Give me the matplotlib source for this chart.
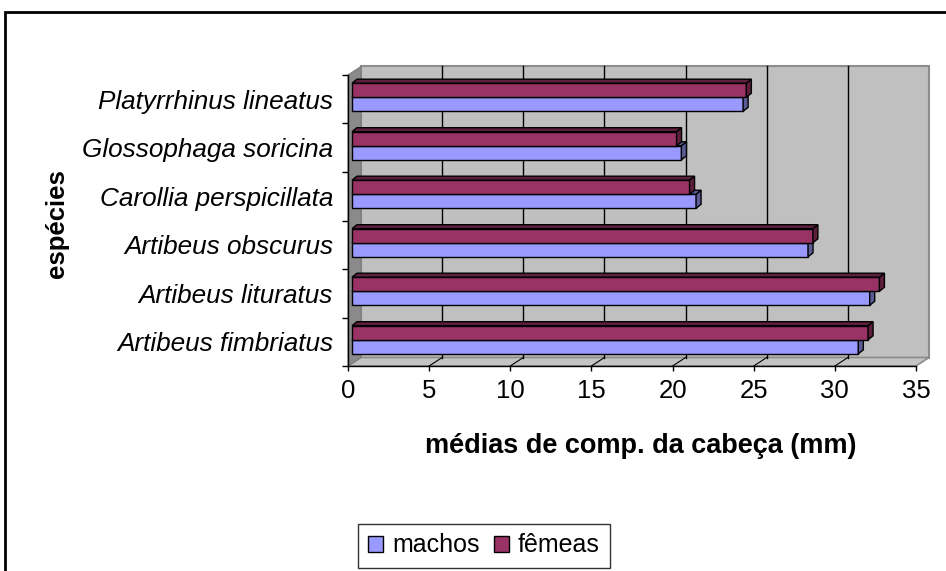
import matplotlib
matplotlib.use("Agg")
import matplotlib.pyplot as plt
from matplotlib.patches import Polygon, Rectangle, Patch

plt.rcParams["font.family"] = ["Liberation Sans", "DejaVu Sans"]

OUT_FILE = "out.png"

species = ["Artibeus fimbriatus", "Artibeus lituratus", "Artibeus obscurus",
           "Carollia perspicillata", "Glossophaga soricina", "Platyrrhinus lineatus"]
machos = [31.2, 31.9, 28.1, 21.2, 20.3, 24.1]
femeas = [31.8, 32.5, 28.4, 20.8, 20.0, 24.3]
x_ticks = [0, 5, 10, 15, 20, 25, 30, 35]

COL_M = "#9999ff"
COL_M_DARK = "#5c5c99"
COL_F = "#993366"
COL_F_DARK = "#5c1f3d"

XMAX = 35
WALL_DEPTH = (13, 8.5)   # pixels, front plane -> back wall
BAR_SHIFT = (4, 2)       # bars sit a bit behind the front plane
BAR_DEPTH = (5, 4)
BAR_H = 0.29


def bar3d(ax, left, bottom, width, px, py, color, dark, z):
    right = left + width
    top = bottom + BAR_H
    bx, by = BAR_DEPTH[0] * px, BAR_DEPTH[1] * py
    side = [(right, bottom), (right, top), (right + bx, top + by), (right + bx, bottom + by)]
    roof = [(left, top), (right, top), (right + bx, top + by), (left + bx, top + by)]
    for pts in (side, roof):
        ax.add_patch(Polygon(pts, closed=True, fc=dark, ec="black", lw=1, zorder=z, clip_on=False))


def main():
    fig = plt.figure(figsize=(9.46, 5.71), dpi=100)
    ax = fig.add_axes([348 / 946, 205 / 571, 568 / 946, 291 / 571])
    ax.set_xlim(0, XMAX)
    ax.set_ylim(-0.5, len(species) - 0.5)
    ax.patch.set_visible(False)

    # data units per pixel
    px = XMAX / 568
    py = len(species) / 291
    dx, dy = WALL_DEPTH[0] * px, WALL_DEPTH[1] * py
    y0, y1 = -0.5, len(species) - 0.5

    # walls
    ax.add_patch(Rectangle((dx, y0 + dy), XMAX, y1 - y0, fc="#c0c0c0", ec="#8c8c8c",
                           lw=1.5, zorder=0, clip_on=False))
    ax.add_patch(Polygon([(0, y0), (XMAX, y0), (XMAX + dx, y0 + dy), (dx, y0 + dy)],
                         fc="#c4c4c4", ec="#8c8c8c", lw=1.2, zorder=0, clip_on=False))
    ax.add_patch(Polygon([(0, y0), (0, y1), (dx, y1 + dy), (dx, y0 + dy)],
                         fc="#8a8a8a", ec="#7a7a7a", lw=0.8, zorder=0, clip_on=False))
    for v in x_ticks[1:-1]:
        ax.plot([v + dx, v + dx], [y0 + dy, y1 + dy], color="black", lw=1, zorder=0.5, clip_on=False)
        ax.plot([v, v + dx], [y0, y0 + dy], color="black", lw=0.8, zorder=0.5, clip_on=False)

    # bars
    sx, sy = BAR_SHIFT[0] * px, BAR_SHIFT[1] * py
    for i in range(len(species)):
        bm = i - BAR_H + sy
        bf = i + sy
        ax.barh(bm, machos[i], left=sx, height=BAR_H, align="edge", color=COL_M,
                edgecolor="black", lw=1, zorder=2, clip_on=False)
        bar3d(ax, sx, bm, machos[i], px, py, COL_M, COL_M_DARK, 2)
        ax.barh(bf, femeas[i], left=sx, height=BAR_H, align="edge", color=COL_F,
                edgecolor="black", lw=1, zorder=3, clip_on=False)
        bar3d(ax, sx, bf, femeas[i], px, py, COL_F, COL_F_DARK, 3)

    for s in ("top", "right"):
        ax.spines[s].set_visible(False)
    for s in ("left", "bottom"):
        ax.spines[s].set_color("black")
        ax.spines[s].set_linewidth(1)
        ax.spines[s].set_zorder(4)

    ax.set_xticks(x_ticks)
    ax.tick_params(axis="x", direction="out", length=3.6, width=1, labelsize=18.5, pad=5.5)
    ax.set_yticks(range(len(species)))
    ax.set_yticklabels(species, fontsize=18.8, style="italic")
    ax.set_yticks([k - 0.5 for k in range(len(species) + 1)], minor=True)
    ax.tick_params(axis="y", which="major", length=0, pad=10.8)
    ax.tick_params(axis="y", which="minor", direction="out", length=4.3, width=1)

    ax.set_xlabel("médias de comp. da cabeça (mm)", fontsize=19.5, weight="bold")
    ax.xaxis.set_label_coords(0.516, -0.275)
    ax.xaxis.label.set_va("center")
    ax.set_ylabel("espécies", fontsize=18.5, weight="bold")
    ax.yaxis.set_label_coords(-0.512, 0.491)
    ax.yaxis.label.set_va("center")

    handles = [Patch(fc=COL_M, ec="black", lw=1, label="machos"),
               Patch(fc=COL_F, ec="black", lw=1, label="fêmeas")]
    leg = fig.legend(handles=handles, loc="center", bbox_to_anchor=(484 / 946, 1 - 545.5 / 571),
                     ncol=2, fontsize=18, frameon=True, fancybox=False, shadow=False,
                     handlelength=0.6, handleheight=0.6, handletextpad=0.36,
                     columnspacing=0.56, borderpad=0.4, borderaxespad=0)
    leg.get_frame().set_edgecolor("black")
    leg.get_frame().set_linewidth(1)

    # outer chart frame (right and bottom run off the picture)
    fig.add_artist(Rectangle((5 / 946, -0.1), 1.2, 1.1 - 12 / 571, transform=fig.transFigure,
                             fc="none", ec="black", lw=2))

    fig.savefig(OUT_FILE, dpi=100)


if __name__ == "__main__":
    main()
